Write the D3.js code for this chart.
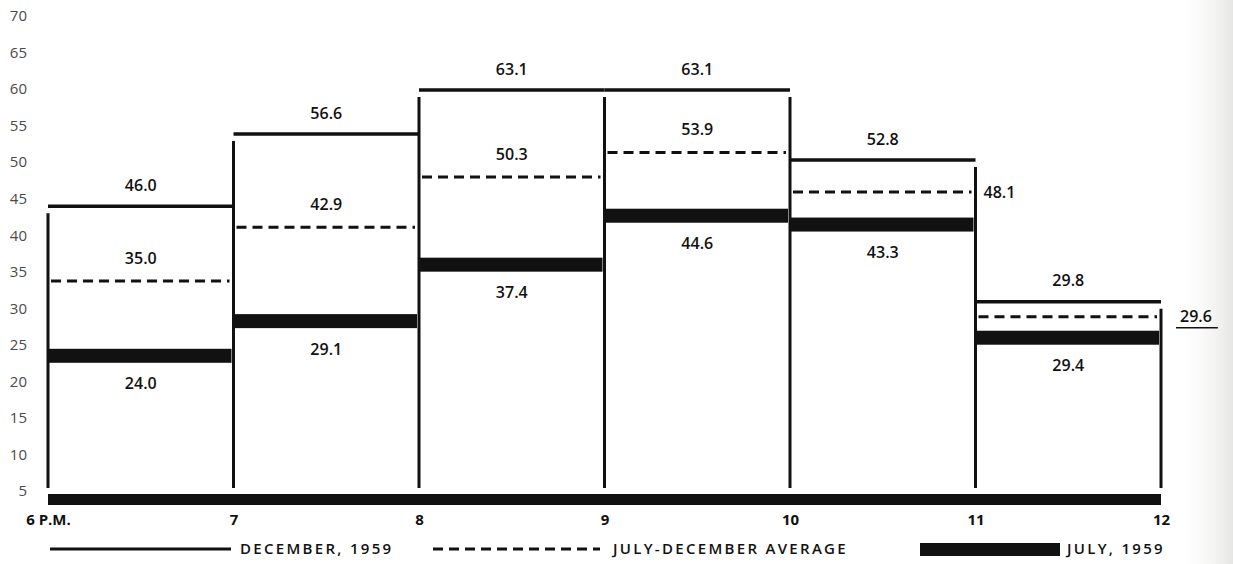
<!DOCTYPE html>
<html>
<head>
<meta charset="utf-8">
<script src="https://cdn.jsdelivr.net/npm/d3@7"></script>
<style>
  body { margin: 0; background: #fff; }
  svg { display: block; font-family: "Open Sans", sans-serif; }
</style>
</head>
<body>
<svg id="chart"></svg>
<script>
// ── data ────────────────────────────────────────────────────────────────────
const hours    = ["6 P.M.", "7", "8", "9", "10", "11", "12"];
const december = [46.0, 56.6, 63.1, 63.1, 52.8, 29.8];
const average  = [35.0, 42.9, 50.3, 53.9, 48.1, 29.6];
const july     = [24.0, 29.1, 37.4, 44.6, 43.3, 29.4];
const yTicks   = [5, 10, 15, 20, 25, 30, 35, 40, 45, 50, 55, 60, 65, 70];
const legendLabels = ["DECEMBER, 1959", "JULY-DECEMBER AVERAGE", "JULY, 1959"];

// ── layout ──────────────────────────────────────────────────────────────────
const W = 1233, H = 564;
const ink = "#111";
const svg = d3.select("#chart").attr("width", W).attr("height", H);

const x = d3.scaleLinear().domain([0, hours.length - 1]).range([48, 1161]);
// the printed scale on the left of the original does not quite line up with
// the plotted levels, so the marks get their own scale
const y     = d3.scaleLinear().domain([0, 70]).range([519, 43]);
const yAxis = d3.scaleLinear().domain([5, 70]).range([491, 16]);

// faint scan shading along the right edge
const grad = svg.append("defs").append("linearGradient").attr("id", "edge").attr("x1", 0).attr("x2", 1);
grad.append("stop").attr("offset", 0).attr("stop-color", "#fff").attr("stop-opacity", 0);
grad.append("stop").attr("offset", 1).attr("stop-color", "#e6e6e4");
svg.append("rect").attr("x", 1175).attr("y", 0).attr("width", W - 1175).attr("height", H).attr("fill", "url(#edge)");

// ── axes ────────────────────────────────────────────────────────────────────
svg.append("g").attr("transform", "translate(27,0)")
  .call(d3.axisLeft(yAxis).tickValues(yTicks).tickSize(0).tickPadding(0))
  .call(g => g.select(".domain").remove())
  .selectAll("text").attr("font-size", 15).attr("fill", "#4a4a4a").attr("font-family", "Open Sans");

const baseY = 494;
svg.append("rect").attr("x", x(0)).attr("y", baseY).attr("width", x(hours.length - 1) - x(0)).attr("height", 11).attr("fill", ink);

svg.append("g").attr("transform", `translate(0,${baseY + 11})`)
  .call(d3.axisBottom(x).tickValues(d3.range(hours.length)).tickFormat(i => hours[i]).tickSize(0).tickPadding(9))
  .call(g => g.select(".domain").remove())
  .selectAll("text").attr("font-size", 15).attr("font-weight", 700).attr("fill", ink).attr("font-family", "Open Sans");

// ── periods ─────────────────────────────────────────────────────────────────
const periods = december.map((d, i) => {
  const p = { i, dec: y(d), avg: y(average[i]), jul: y(july[i]) };
  // pull the three levels apart where they would sit on top of each other
  if (p.avg - p.dec < 15 || p.jul - p.avg < 21) {
    const c = (p.dec + p.avg + p.jul) / 3;
    p.dec = c - 16; p.avg = c - 1; p.jul = c + 20;
  }
  return p;
});

// vertical hour lines, up to the higher December level on either side
const bounds = d3.range(hours.length).map(b => {
  const tops = [periods[b - 1], periods[b]].filter(Boolean).map(p => p.dec);
  return { b, top: d3.min(tops) + 7 };
});
svg.selectAll("line.hour").data(bounds).join("line").attr("class", "hour")
  .attr("x1", d => x(d.b)).attr("x2", d => x(d.b))
  .attr("y1", baseY - 6).attr("y2", d => d.top)
  .attr("stroke", ink).attr("stroke-width", 3);

// December
svg.selectAll("line.dec").data(periods).join("line").attr("class", "dec")
  .attr("x1", d => x(d.i)).attr("x2", d => x(d.i + 1))
  .attr("y1", d => d.dec).attr("y2", d => d.dec)
  .attr("stroke", ink).attr("stroke-width", 3.5);

// July-December average
svg.selectAll("line.avg").data(periods).join("line").attr("class", "avg")
  .attr("x1", d => x(d.i) + 3).attr("x2", d => x(d.i + 1) - 4)
  .attr("y1", d => d.avg).attr("y2", d => d.avg)
  .attr("stroke", ink).attr("stroke-width", 3).attr("stroke-dasharray", "10,6");

// July
svg.selectAll("rect.jul").data(periods).join("rect").attr("class", "jul")
  .attr("x", d => x(d.i) + 1).attr("width", d => x(d.i + 1) - x(d.i) - 3)
  .attr("y", d => d.jul - 7).attr("height", 14).attr("fill", ink);

// ── value labels ────────────────────────────────────────────────────────────
const labels = svg.append("g").attr("font-size", 16).attr("font-weight", 600).attr("fill", ink);
const mid = i => (x(i) + x(i + 1)) / 2;

labels.selectAll("text.dec").data(periods).join("text").attr("class", "dec")
  .attr("x", d => mid(d.i)).attr("y", d => d.dec - 21).attr("dy", "0.35em").attr("text-anchor", "middle")
  .text(d => december[d.i].toFixed(1));

labels.selectAll("text.jul").data(periods).join("text").attr("class", "jul")
  .attr("x", d => mid(d.i)).attr("y", d => d.jul + 28).attr("dy", "0.35em").attr("text-anchor", "middle")
  .text(d => july[d.i].toFixed(1));

// average labels go outside the period when there is no room above the dashes
const last = periods.length - 1;
periods.forEach(p => {
  const outside = p.avg - p.dec < 45;
  const offset = p.i === last ? 19 : 8;
  const t = labels.append("text")
    .attr("x", outside ? x(p.i + 1) + offset : mid(p.i))
    .attr("y", outside ? p.avg : p.avg - 23)
    .attr("dy", "0.35em")
    .attr("text-anchor", outside ? "start" : "middle")
    .text(average[p.i].toFixed(1));
  if (outside && p.i === last) {
    const bb = t.node().getBBox();
    labels.append("line").attr("x1", bb.x - 4).attr("x2", bb.x + bb.width + 6)
      .attr("y1", p.avg + 11).attr("y2", p.avg + 11).attr("stroke", ink).attr("stroke-width", 1.5);
  }
});

// ── legend ──────────────────────────────────────────────────────────────────
const legY = 549;
const legend = svg.append("g");
legend.append("line").attr("x1", 50).attr("x2", 231).attr("y1", legY).attr("y2", legY)
  .attr("stroke", ink).attr("stroke-width", 3);
legend.append("line").attr("x1", 433).attr("x2", 600).attr("y1", legY).attr("y2", legY)
  .attr("stroke", ink).attr("stroke-width", 3).attr("stroke-dasharray", "10,6");
legend.append("rect").attr("x", 920).attr("y", legY - 6).attr("width", 140).attr("height", 13).attr("fill", ink);

legend.selectAll("text").data(legendLabels).join("text")
  .attr("x", (d, i) => [240, 613, 1067][i]).attr("y", legY).attr("dy", "0.35em")
  .attr("font-size", 15).attr("font-weight", 600).attr("letter-spacing", 2.3).attr("fill", ink)
  .text(d => d);
</script>
</body>
</html>
